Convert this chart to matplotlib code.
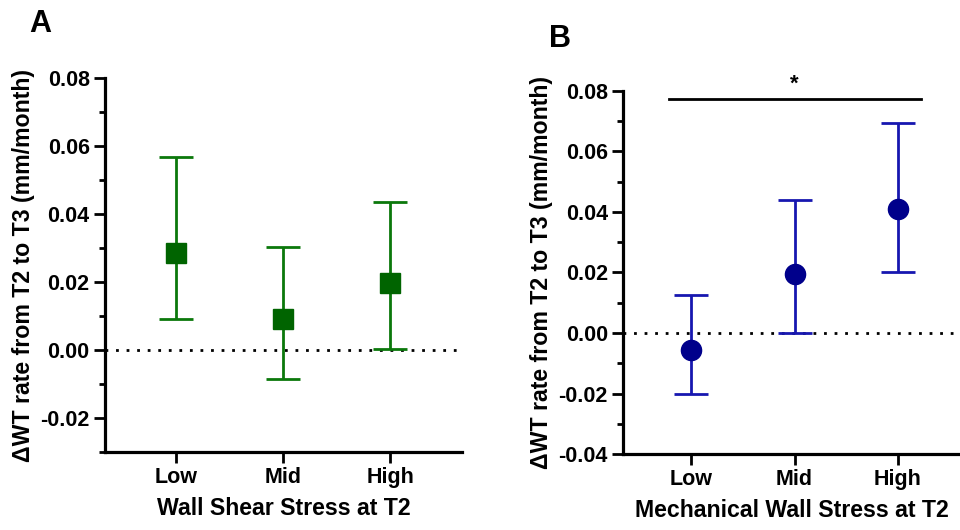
import numpy as np
import matplotlib.pyplot as plt
from matplotlib.ticker import MultipleLocator, FixedLocator

plt.rcParams['font.family'] = ['Liberation Sans', 'DejaVu Sans']
plt.rcParams['font.weight'] = 'bold'

groups = ["Low", "Mid", "High"]

# panel A: wall shear stress
wss_mean = [0.0285, 0.0090, 0.0197]
wss_upper = [0.0567, 0.0303, 0.0436]
wss_lower = [0.0090, -0.0086, 0.0003]

# panel B: mechanical wall stress
mws_mean = [-0.0055, 0.0196, 0.0410]
mws_upper = [0.0126, 0.0440, 0.0693]
mws_lower = [-0.0201, 0.0000, 0.0200]

ylabel = "\u0394WT rate from T2 to T3 (mm/month)"


def style_axis(ax, ylim, yticks):
    ax.set_ylim(*ylim)
    ax.yaxis.set_major_locator(FixedLocator(yticks))
    ax.yaxis.set_minor_locator(MultipleLocator(0.01))
    ax.set_yticklabels(["%.2f" % t for t in yticks])
    ax.spines['top'].set_visible(False)
    ax.spines['right'].set_visible(False)
    ax.spines['left'].set_linewidth(2.3)
    ax.spines['bottom'].set_linewidth(2.3)
    ax.tick_params(axis='both', which='major', length=8, width=2, labelsize=15.5, pad=3)
    ax.tick_params(axis='y', which='minor', length=4.5, width=2)
    ax.tick_params(axis='x', which='minor', length=0)
    ax.set_xticks(range(len(groups)))
    ax.set_xticklabels(groups)
    ax.axhline(0, color='black', linestyle=(0, (1, 2.8)), linewidth=2, zorder=1)
    ax.set_ylabel(ylabel, fontsize=16.7, fontweight='bold', labelpad=4)


def draw_points(ax, mean, lower, upper, marker, line_color, face_color, ms):
    x = np.arange(len(mean))
    mean = np.array(mean)
    err = [mean - np.array(lower), np.array(upper) - mean]
    ax.errorbar(x, mean, yerr=err, fmt='none', ecolor=line_color,
                elinewidth=2, capsize=12.5, capthick=2, zorder=2)
    ax.plot(x, mean, linestyle='none', marker=marker, markersize=ms,
            color=face_color, zorder=3)


fig = plt.figure(figsize=(9.6, 5.3), dpi=100)

axA = fig.add_axes([0.1094, 0.147, 0.372, 0.706])
style_axis(axA, (-0.03, 0.08), [-0.02, 0.0, 0.02, 0.04, 0.06, 0.08])
axA.set_xlim(-0.66, 2.67)
draw_points(axA, wss_mean, wss_lower, wss_upper, 's', '#0b780b', '#006400', 14)
axA.set_xlabel("Wall Shear Stress at T2", fontsize=16.7, fontweight='bold', labelpad=6)

axB = fig.add_axes([0.649, 0.143, 0.351, 0.686])
style_axis(axB, (-0.04, 0.08), [-0.04, -0.02, 0.0, 0.02, 0.04, 0.06, 0.08])
axB.set_xlim(-0.66, 2.60)
draw_points(axB, mws_mean, mws_lower, mws_upper, 'o', '#1717b0', '#00008b', 14.5)
axB.set_xlabel("Mechanical Wall Stress at T2", fontsize=16.7, fontweight='bold', labelpad=6)

# significance bar Low vs High
axB.plot([-0.216, 2.226], [0.0774, 0.0774], color='black', linewidth=2,
         clip_on=False, zorder=4)
axB.text(1.0, 0.0785, "*", ha='center', va='bottom', fontsize=16,
         fontweight='bold', clip_on=False)

fig.text(0.042, 0.955, "A", fontsize=22, fontweight='bold', ha='center', va='center')
fig.text(0.583, 0.927, "B", fontsize=22, fontweight='bold', ha='center', va='center')

fig.savefig("out.png", dpi=100)
